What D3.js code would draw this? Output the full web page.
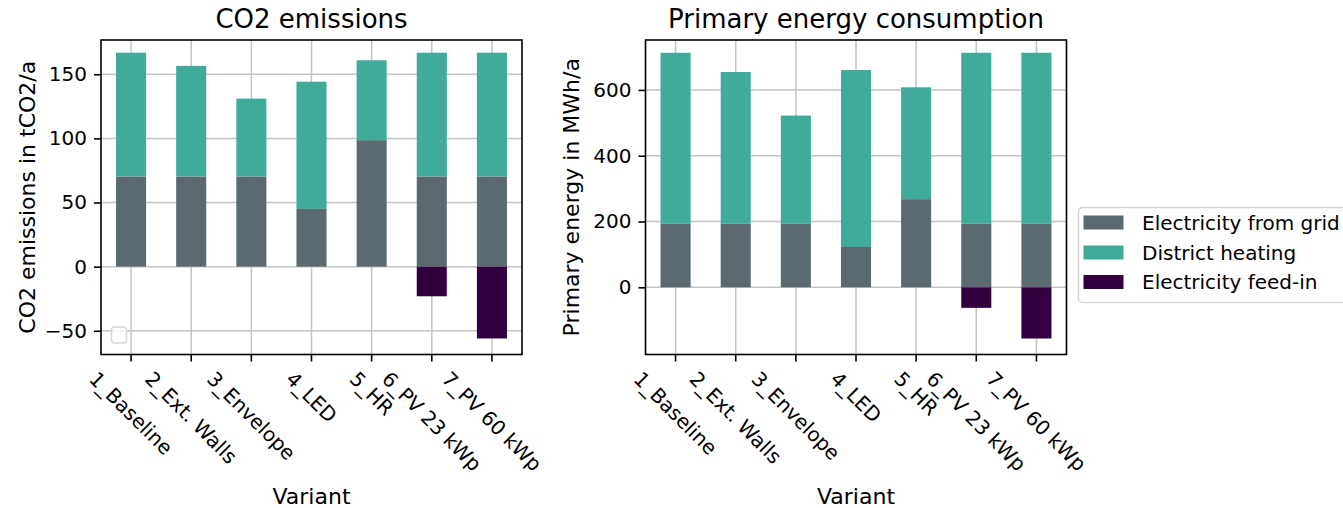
<!DOCTYPE html>
<html>
<head>
<meta charset="utf-8">
<script src="https://cdn.jsdelivr.net/npm/d3@7"></script>
<style>
  html, body { margin: 0; padding: 0; background: #fff; }
  svg { display: block; font-family: "DejaVu Sans", sans-serif; }
</style>
</head>
<body>
<svg id="chart" width="1343" height="508"></svg>
<script>
// ---- Data ----
const categories = ["1_Baseline", "2_Ext. Walls", "3_Envelope", "4_LED", "5_HR", "6_PV 23 kWp", "7_PV 60 kWp"];
const seriesNames = ["Electricity from grid", "District heating", "Electricity feed-in"];

const co2Grid = [70.3, 70.3, 70.3, 45.0, 98.6, 70.3, 70.3];
const co2Heat = [96.5, 86.2, 60.7, 99.2, 62.3, 96.5, 96.5];
const co2Feed = [0, 0, 0, 0, 0, -23.1, -56.0];

const peGrid = [193, 193, 193, 122.6, 268, 193, 193];
const peHeat = [520, 461.6, 329, 538, 340, 520, 520];
const peFeed = [0, 0, 0, 0, 0, -62.5, -155.7];

const co2Ticks = [-50, 0, 50, 100, 150];
const peTicks = [0, 200, 400, 600];
const co2Domain = [-68.5, 176.7];
const peDomain = [-204.3, 751.8];

// ---- Styles ----
const colors = ["#5b6a71", "#3fab98", "#33003f"];
const svg = d3.select("#chart");

function fmt(d) { return d < 0 ? "\u2212" + Math.abs(d) : String(d); }

function drawPanel(opts) {
  const { left, right, top, bottom, grid, heat, feed, ticks, domain, title, ylabel, ylabelX, emptyLegend } = opts;
  const g = svg.append("g");
  const x = d3.scaleBand().domain(categories).range([left, right]).paddingInner(0.5).paddingOuter(0.25);
  const y = d3.scaleLinear().domain(domain).range([bottom, top]);

  // gridlines
  g.append("g").selectAll("line.h").data(ticks).join("line")
    .attr("x1", left).attr("x2", right)
    .attr("y1", d => y(d)).attr("y2", d => y(d))
    .attr("stroke", "#c4c4c4").attr("stroke-width", 1.5);
  g.append("g").selectAll("line.v").data(categories).join("line")
    .attr("x1", d => x(d) + x.bandwidth() / 2).attr("x2", d => x(d) + x.bandwidth() / 2)
    .attr("y1", top).attr("y2", bottom)
    .attr("stroke", "#c4c4c4").attr("stroke-width", 1.5);

  // stacked bars
  const rows = categories.map((c, i) => ({ c, vals: [grid[i], heat[i], feed[i]] }));
  rows.forEach(r => {
    let pos = 0, neg = 0;
    r.vals.forEach((v, si) => {
      let y0, y1;
      if (v >= 0) { y0 = pos; y1 = pos + v; pos = y1; }
      else { y0 = neg; y1 = neg + v; neg = y1; }
      if (v === 0) return;
      g.append("rect")
        .attr("x", x(r.c)).attr("width", x.bandwidth())
        .attr("y", y(Math.max(y0, y1))).attr("height", Math.abs(y(y0) - y(y1)))
        .attr("fill", colors[si]);
    });
  });

  // y axis ticks
  const ya = g.append("g").attr("transform", `translate(${left},0)`)
    .call(d3.axisLeft(y).tickValues(ticks).tickSize(7).tickPadding(7).tickFormat(fmt));
  ya.select(".domain").remove();
  ya.selectAll("line").attr("stroke", "#000").attr("stroke-width", 1.6);
  ya.selectAll("text").attr("font-size", 20).attr("fill", "#000").attr("font-family", "DejaVu Sans");

  // x axis ticks
  const xa = g.append("g").attr("transform", `translate(0,${bottom})`)
    .call(d3.axisBottom(x).tickSize(7).tickFormat(""));
  xa.select(".domain").remove();
  xa.selectAll("line").attr("stroke", "#000").attr("stroke-width", 1.6);

  // rotated x labels (matplotlib rotation=-45, ha=center, va=top)
  const labTop = bottom + 14;
  categories.forEach(c => {
    const cx = x(c) + x.bandwidth() / 2;
    const t = g.append("text").text(c)
      .attr("font-size", 20).attr("fill", "#000")
      .attr("text-anchor", "middle").attr("dominant-baseline", "central");
    const w = t.node().getComputedTextLength();
    const h = 20 * 0.95;
    const boxH = (w + h) * Math.SQRT1_2;
    const cy = labTop + boxH / 2;
    t.attr("transform", `translate(${cx},${cy}) rotate(45)`);
  });

  // spines
  g.append("rect").attr("x", left).attr("y", top).attr("width", right - left).attr("height", bottom - top)
    .attr("fill", "none").attr("stroke", "#000").attr("stroke-width", 1.6);

  // title
  g.append("text").text(title).attr("x", (left + right) / 2).attr("y", top - 12)
    .attr("text-anchor", "middle").attr("font-size", 26).attr("fill", "#000");

  // y label
  g.append("text").text(ylabel)
    .attr("transform", `translate(${ylabelX},${(top + bottom) / 2}) rotate(-90)`)
    .attr("text-anchor", "middle").attr("dominant-baseline", "central")
    .attr("font-size", 22).attr("fill", "#000");

  // x label
  g.append("text").text("Variant").attr("x", (left + right) / 2).attr("y", 504)
    .attr("text-anchor", "middle").attr("font-size", 22).attr("fill", "#000");

  if (emptyLegend) {
    g.append("rect").attr("x", left + 10.5).attr("y", bottom - 27.5).attr("width", 15).attr("height", 16)
      .attr("rx", 3).attr("fill", "#fff").attr("fill-opacity", 0.8)
      .attr("stroke", "#d6d6d6").attr("stroke-width", 1.5);
  }
}

drawPanel({
  left: 101, right: 522, top: 40, bottom: 354.5,
  grid: co2Grid, heat: co2Heat, feed: co2Feed,
  ticks: co2Ticks, domain: co2Domain,
  title: "CO2 emissions", ylabel: "CO2 emissions in tCO2/a", ylabelX: 27, emptyLegend: true
});

drawPanel({
  left: 645.5, right: 1066.5, top: 40, bottom: 354.5,
  grid: peGrid, heat: peHeat, feed: peFeed,
  ticks: peTicks, domain: peDomain,
  title: "Primary energy consumption", ylabel: "Primary energy in MWh/a", ylabelX: 571, emptyLegend: false
});

// ---- Legend ----
const lg = svg.append("g");
lg.append("rect").attr("x", 1078.5).attr("y", 207.5).attr("width", 270).attr("height", 95)
  .attr("rx", 4).attr("fill", "#fff").attr("stroke", "#d6d6d6").attr("stroke-width", 1.5);
const rowY = [222.5, 252.5, 282];
seriesNames.forEach((name, i) => {
  lg.append("rect").attr("x", 1083.5).attr("y", rowY[i] - 7).attr("width", 40).attr("height", 14)
    .attr("fill", colors[i]);
  lg.append("text").text(name).attr("x", 1142).attr("y", rowY[i])
    .attr("dominant-baseline", "central").attr("font-size", 20).attr("fill", "#000");
});
</script>
</body>
</html>
